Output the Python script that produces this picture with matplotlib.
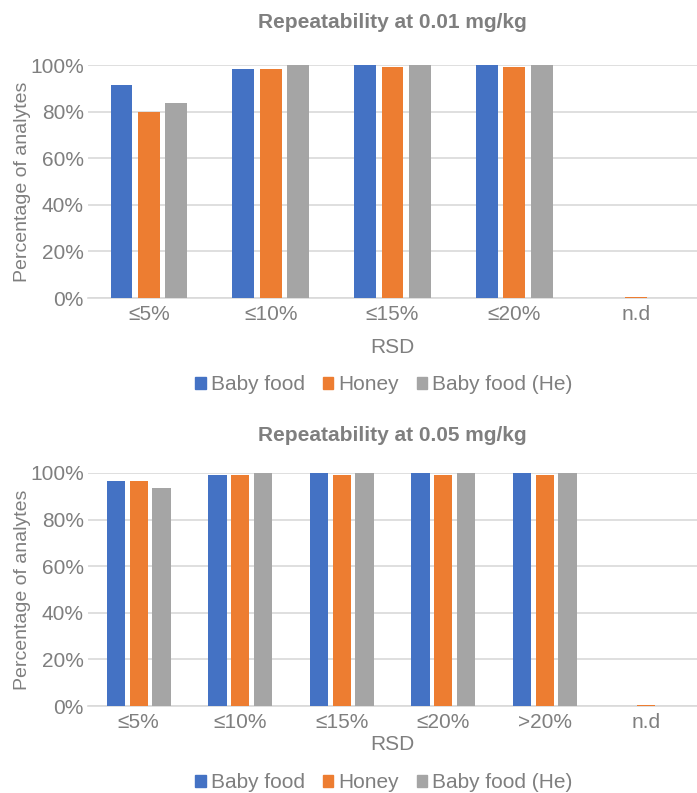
import matplotlib
matplotlib.use("Agg")
import matplotlib.pyplot as plt
import numpy as np
from matplotlib.patches import Patch

plt.rcParams['font.family'] = ['Liberation Sans', 'DejaVu Sans']

series = ["Baby food", "Honey", "Baby food (He)"]
colors = ["#4472C4", "#ED7D31", "#A5A5A5"]

cats_low = ["≤5%", "≤10%", "≤15%", "≤20%", "n.d"]
baby_low = [91.5, 98.1, 100, 100, 0]
honey_low = [80.0, 98.1, 99.3, 99.3, 0.5]
he_low = [83.8, 100, 100, 100, 0]

cats_high = ["≤5%", "≤10%", "≤15%", "≤20%", ">20%", "n.d"]
baby_high = [96.6, 99.3, 100, 100, 100, 0]
honey_high = [96.6, 99.3, 99.3, 99.3, 99.3, 0.5]
he_high = [93.7, 100, 100, 100, 100, 0]

TXT = "#7f7f7f"
GRID = "#d9d9d9"
FS = 15

W, H = 697, 793
fig = plt.figure(figsize=(W / 100, H / 100), dpi=100)


def panel(top, title, cats, values, xpad, tpad):
    ax = fig.add_axes([88 / W, (H - top - 233) / H, 609 / W, 233 / H])
    x = np.arange(len(cats))
    width = 0.18
    offs = [-0.225, 0, 0.225]
    for vals, off, col in zip(values, offs, colors):
        ax.bar(x + off, np.array(vals) / 100, width, color=col, zorder=3)
    ax.set_xlim(-0.5, len(cats) - 0.5)
    ax.set_ylim(0, 1)
    ticks = np.arange(0, 1.01, 0.2)
    ax.set_yticks(ticks)
    ax.set_yticklabels([f"{int(round(v * 100))}%" for v in ticks])
    ax.set_xticks(x)
    ax.set_xticklabels(cats)
    ax.grid(axis="y", color=GRID, linewidth=1.2, zorder=0)
    for s in ["top", "right", "left"]:
        ax.spines[s].set_visible(False)
    ax.spines["bottom"].set_color(GRID)
    ax.spines["bottom"].set_linewidth(1.2)
    ax.tick_params(length=0, labelsize=FS, labelcolor=TXT)
    ax.tick_params(axis="x", pad=5)
    ax.tick_params(axis="y", pad=3)
    ax.set_ylabel("Percentage of analytes", fontsize=14, color=TXT, labelpad=-1)
    ax.set_xlabel("RSD", fontsize=FS, color=TXT, labelpad=xpad)
    ax.set_title(title, fontsize=15, fontweight="bold", color=TXT, pad=tpad)
    return ax


ax1 = panel(65, "Repeatability at 0.01 mg/kg", cats_low,
            [baby_low, honey_low, he_low], xpad=10, tpad=27)
ax2 = panel(473, "Repeatability at 0.05 mg/kg", cats_high,
            [baby_high, honey_high, he_high], xpad=2, tpad=23)

handles = [Patch(color=c) for c in colors]
for y in [385, 783]:
    fig.legend(handles, series, loc="center", bbox_to_anchor=(384 / W, 1 - y / H),
               ncol=3, frameon=False, fontsize=FS, labelcolor=TXT,
               handlelength=0.5, handleheight=0.5, handletextpad=0.25,
               columnspacing=0.85)

fig.savefig("out.png", dpi=100)
